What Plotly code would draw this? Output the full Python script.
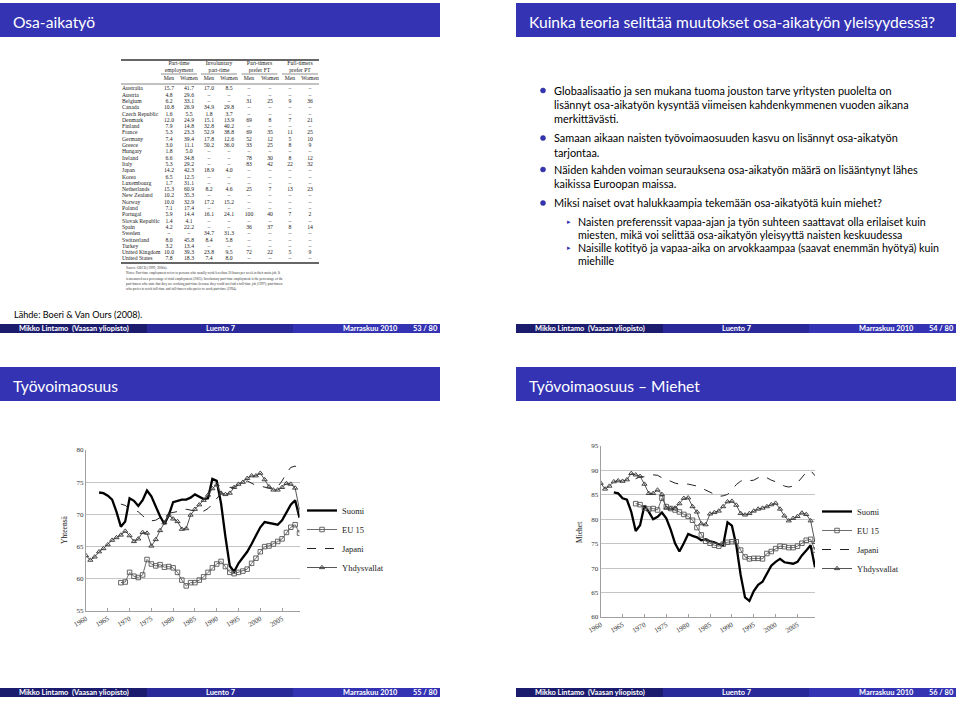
import plotly.graph_objects as go

W, H = 960, 701
def X(p): return p / W
def Y(p): return 1 - p / H

BLUE = '#3333b3'
FOOT = ['#1c1c6e', '#29299a', '#3333b3']
SANS = 'Lato, sans-serif'
SERIF = 'Liberation Serif, serif'
DASH = '\u2013'

# ---------------- data: slide 1 table ----------------
countries = ['Australia', 'Austria', 'Belgium', 'Canada', 'Czech Republic', 'Denmark', 'Finland',
             'France', 'Germany', 'Greece', 'Hungary', 'Ireland', 'Italy', 'Japan', 'Korea',
             'Luxembourg', 'Netherlands', 'New Zealand', 'Norway', 'Poland', 'Portugal',
             'Slovak Republic', 'Spain', 'Sweden', 'Switzerland', 'Turkey', 'United Kingdom',
             'United States']
pt_men = ['15.7', '4.8', '6.2', '10.8', '1.6', '12.0', '7.9', '5.3', '7.4', '3.0', '1.8', '6.6', '5.3',
          '14.2', '6.5', '1.7', '15.3', '10.2', '10.0', '7.1', '5.9', '1.4', '4.2', DASH, '8.0', '3.2',
          '10.0', '7.8']
pt_women = ['41.7', '29.6', '33.1', '26.9', '5.5', '24.9', '14.8', '23.3', '39.4', '11.1', '5.0', '34.8',
            '29.2', '42.3', '12.5', '31.1', '60.9', '35.3', '32.9', '17.4', '14.4', '4.1', '22.2', DASH,
            '45.8', '13.4', '39.3', '18.3']
inv_men = ['17.0', DASH, DASH, '34.9', '1.8', '15.1', '32.8', '52.9', '17.8', '50.2', DASH, DASH, DASH,
           '18.9', DASH, DASH, '8.2', DASH, '17.2', DASH, '16.1', DASH, DASH, '34.7', '8.4', DASH,
           '23.8', '7.4']
inv_women = ['8.5', DASH, DASH, '29.8', '3.7', '13.9', '40.2', '38.8', '12.6', '36.0', DASH, DASH, DASH,
             '4.0', DASH, DASH, '4.6', DASH, '15.2', DASH, '24.1', DASH, DASH, '31.3', '5.8', DASH,
             '9.5', '8.0']
ptft_men = [DASH, DASH, '31', DASH, DASH, '69', DASH, '69', '52', '33', DASH, '78', '83', DASH, DASH,
            DASH, '25', DASH, DASH, DASH, '100', DASH, '36', DASH, DASH, DASH, '72', DASH]
ptft_women = [DASH, DASH, '25', DASH, DASH, '8', DASH, '35', '12', '25', DASH, '30', '42', DASH, DASH,
              DASH, '7', DASH, DASH, DASH, '40', DASH, '37', DASH, DASH, DASH, '22', DASH]
ftpt_men = [DASH, DASH, '9', DASH, DASH, '7', DASH, '11', '5', '8', DASH, '8', '22', DASH, DASH,
            DASH, '13', DASH, DASH, DASH, '7', DASH, '8', DASH, DASH, DASH, '5', DASH]
ftpt_women = [DASH, DASH, '36', DASH, DASH, '21', DASH, '25', '10', '9', DASH, '12', '32', DASH, DASH,
              DASH, '23', DASH, DASH, DASH, '2', DASH, '14', DASH, DASH, DASH, '9', DASH]
table_groups = ['Part-time<br>employment', 'Involuntary<br>part-time',
                'Part-timers<br>prefer FT', 'Full-timers<br>prefer PT']
table_sub = ['Men', 'Women', 'Men', 'Women', 'Men', 'Women', 'Men', 'Women']
table_notes = [
    'Source: OECD (1999, 2006a).',
    'Notes: Part-time employment refers to persons who usually work less than 30 hours per week in their main job. It',
    'is measured as a percentage of total employment (2005); Involuntary part-time employment is the percentage of the',
    'part-timers who state that they are working part-time because they could not find a full-time job (1997); part-timers',
    'who prefer to work full-time and full-timers who prefer to work part-time (1994).',
]

# ---------------- data: charts ----------------
years = list(range(1960, 2010))
series_names = ['Suomi', 'EU 15', 'Japani', 'Yhdysvallat']

tot_suomi = [None] * 3 + [
    73.4, 73.3, 72.9, 72.3, 70.4, 68.1, 68.9, 72.5, 72.1, 71.3, 72.2, 73.7, 72.8, 71.2, 69.7,
    68.5, 69.9, 71.9, 72.1, 72.3, 72.3, 72.6, 73.1, 72.8, 72.4, 72.5, 75.5, 75.2, 71.7, 66.5,
    62.0, 61.1, 62.4, 63.3, 64.2, 65.4, 66.8, 68.0, 68.8, 68.7, 68.5, 68.4, 69.1, 70.4, 71.5,
    72.2, 69.5]
tot_eu15 = [None] * 8 + [
    59.4, 59.5, 61.0, 60.4, 60.2, 60.6, 63.0, 62.3, 62.0, 62.2, 61.8, 61.9, 61.7, 61.0, 59.8,
    58.9, 59.4, 59.4, 59.8, 60.3, 61.0, 61.7, 62.3, 62.7, 61.9, 61.0, 60.8, 61.0, 61.2, 61.5,
    62.4, 63.2, 64.2, 65.0, 65.1, 65.4, 65.8, 66.2, 67.2, 68.0, 68.4, 67.1]
tot_japani = [None] * 8 + [
    71.6, 71.4, 70.9, 70.7, 70.4, 69.8, 69.2, 69.0, 69.1, 69.5, 69.9, 70.2, 70.3, 70.4, 70.6,
    70.8, 70.7, 70.5, 70.4, 70.5, 70.9, 71.6, 72.5, 73.3, 73.9, 74.2, 74.2, 74.6, 74.9, 75.2,
    74.8, 74.5, 74.4, 74.2, 74.1, 73.9, 74.3, 75.2, 76.4, 77.3, 77.5, 77.0]
tot_usa = [
    63.6, 62.9, 63.4, 64.2, 64.7, 65.3, 66.0, 66.4, 66.8, 67.4, 66.7, 65.8, 66.2, 67.2, 67.1,
    65.1, 66.1, 67.5, 68.7, 69.9, 69.3, 68.9, 67.7, 67.8, 69.9, 70.8, 71.5, 72.2, 73.0, 74.0,
    74.6, 73.3, 73.1, 73.3, 74.2, 74.7, 75.0, 75.6, 76.0, 76.0, 76.4, 75.4, 74.3, 73.8, 73.8,
    74.2, 74.8, 74.7, 74.1, 70.7]

men_suomi = [None] * 3 + [
    85.5, 85.3, 84.3, 84.0, 81.5, 77.6, 78.8, 82.8, 81.5, 80.0, 80.5, 81.4, 80.2, 77.9, 75.1,
    73.4, 75.1, 77.0, 76.6, 76.3, 75.7, 75.9, 75.5, 75.3, 74.9, 74.7, 79.4, 78.7, 74.7, 68.6,
    64.0, 63.3, 65.3, 66.6, 67.2, 69.0, 70.5, 71.3, 71.9, 71.2, 71.0, 70.9, 71.3, 72.6, 73.6,
    74.7, 70.2]
men_eu15 = [None] * 8 + [
    83.2, 83.0, 82.3, 82.1, 82.2, 81.9, 84.3, 82.6, 82.2, 81.9, 81.5, 81.0, 80.6, 79.8, 78.3,
    76.8, 75.5, 75.1, 74.7, 74.5, 74.9, 75.3, 75.4, 75.4, 73.7, 72.3, 71.9, 72.0, 72.0, 71.9,
    73.0, 73.4, 74.0, 74.5, 74.4, 74.2, 74.2, 74.5, 75.1, 75.7, 75.9, 73.7]
men_japani = [None] * 8 + [
    88.3, 88.7, 88.7, 88.9, 89.1, 89.0, 88.5, 88.0, 87.8, 87.4, 87.2, 87.2, 87.2, 87.0, 86.8,
    86.4, 86.0, 85.5, 85.1, 84.7, 84.8, 85.1, 86.0, 87.1, 87.8, 88.1, 87.9, 88.0, 88.5, 88.9,
    88.5, 88.0, 87.7, 87.3, 86.8, 86.6, 86.8, 87.5, 88.5, 89.6, 90.0, 88.9]
men_usa = [
    87.4, 86.2, 86.8, 87.7, 87.9, 87.8, 88.1, 89.4, 89.1, 88.8, 87.2, 85.3, 85.3, 86.0, 85.1,
    82.3, 82.2, 82.3, 83.2, 84.3, 84.4, 82.6, 81.5, 79.1, 78.9, 81.1, 81.4, 81.7, 82.6, 83.6,
    83.7, 82.9, 81.2, 80.9, 81.2, 81.7, 82.1, 82.3, 82.6, 83.0, 83.3, 82.1, 80.7, 79.7, 80.2,
    80.6, 81.3, 81.0, 79.7, 75.3]

x_ticks = list(range(1960, 2010, 5))

# ---------------- slide texts ----------------
slide_titles = ['Osa-aikaty\u00f6', 'Kuinka teoria selitt\u00e4\u00e4 muutokset osa-aikaty\u00f6n yleisyydess\u00e4?',
                'Ty\u00f6voimaosuus', 'Ty\u00f6voimaosuus \u2013 Miehet']
page_labels = ['53 / 80', '54 / 80', '55 / 80', '56 / 80']
footer_author = 'Mikko Lintamo\u00a0\u00a0(Vaasan yliopisto)'
footer_title = 'Luento 7'
footer_date = 'Marraskuu 2010'
source_text = 'L\u00e4hde: Boeri & Van Ours (2008).'

bullets = [
    ['Globaalisaatio ja sen mukana tuoma jouston tarve yritysten puolelta on',
     'lis\u00e4nnyt osa-aikaty\u00f6n kysynt\u00e4\u00e4 viimeisen kahdenkymmenen vuoden aikana',
     'merkitt\u00e4v\u00e4sti.'],
    ['Samaan aikaan naisten ty\u00f6voimaosuuden kasvu on lis\u00e4nnyt osa-aikaty\u00f6n',
     'tarjontaa.'],
    ['N\u00e4iden kahden voiman seurauksena osa-aikaty\u00f6n m\u00e4\u00e4r\u00e4 on lis\u00e4\u00e4ntynyt l\u00e4hes',
     'kaikissa Euroopan maissa.'],
    ['Miksi naiset ovat halukkaampia tekem\u00e4\u00e4n osa-aikaty\u00f6t\u00e4 kuin miehet?'],
]
sub_bullets = [
    ['Naisten preferenssit vapaa-ajan ja ty\u00f6n suhteen saattavat olla erilaiset kuin',
     'miesten, mik\u00e4 voi selitt\u00e4\u00e4 osa-aikaty\u00f6n yleisyytt\u00e4 naisten keskuudessa'],
    ['Naisille kotity\u00f6 ja vapaa-aika on arvokkaampaa (saavat enemm\u00e4n hy\u00f6ty\u00e4) kuin',
     'miehille'],
]

# ---------------- figure ----------------
fig = go.Figure()
shapes = []
annotations = []

slides = [(0, 3), (516, 3), (0, 367), (516, 367)]
for i, (sx, sy) in enumerate(slides):
    shapes.append(dict(type='rect', xref='paper', yref='paper', x0=X(sx), x1=X(sx + 440),
                       y0=Y(sy), y1=Y(sy + 34), fillcolor=BLUE, line=dict(width=0), layer='below'))
    annotations.append(dict(text=slide_titles[i], x=X(sx + 11), y=Y(sy + 19), xref='paper', yref='paper',
                            xanchor='left', yanchor='middle', showarrow=False,
                            font=dict(family=SANS, size=15.6, color='white')))
    fy0, fy1 = sy + 321, sy + 330
    segs = [(0, 147), (147, 293), (293, 440)]
    for (a, b), col in zip(segs, FOOT):
        shapes.append(dict(type='rect', xref='paper', yref='paper', x0=X(sx + a), x1=X(sx + b),
                           y0=Y(fy0), y1=Y(fy1), fillcolor=col, line=dict(width=0), layer='below'))
    fym = Y(fy0 + 4.6)
    for txt, fx, anc in [(footer_author, 17, 'left'), (footer_title, 221, 'center'),
                         (footer_date, 341, 'left'), (page_labels[i], 411, 'left')]:
        annotations.append(dict(text='<b>' + txt + '</b>', x=X(sx + fx), y=fym, xanchor=anc,
                                xref='paper', yref='paper', yanchor='middle', showarrow=False,
                                font=dict(family=SANS, size=7.4, color='white')))

# ---- slide 1: table drawn as text on its own hidden axes ----
ROW0, PITCH = 89.0, 6.296           # px of first row centre, row pitch
COL_X = [48, 68, 88, 108, 128, 149, 169, 189]   # column centres (px from table left)
GROUP_X = [58, 98, 138.5, 179]
rows = list(range(len(countries)))
tfont = dict(family=SERIF, size=5.7, color='#222')
fig.add_trace(go.Scatter(x=[1] * len(countries), y=rows, text=countries, mode='text',
                         textposition='middle right', textfont=tfont, xaxis='x3', yaxis='y3',
                         showlegend=False, hoverinfo='skip'))
for cx, col in zip(COL_X, [pt_men, pt_women, inv_men, inv_women, ptft_men, ptft_women, ftpt_men, ftpt_women]):
    fig.add_trace(go.Scatter(x=[cx] * len(col), y=rows, text=col, mode='text', textposition='middle center',
                             textfont=tfont, xaxis='x3', yaxis='y3', showlegend=False, hoverinfo='skip'))
fig.add_trace(go.Scatter(x=COL_X, y=[-1.6] * len(COL_X), text=table_sub, mode='text',
                         textposition='middle center', textfont=tfont, xaxis='x3', yaxis='y3',
                         showlegend=False, hoverinfo='skip'))
fig.add_trace(go.Scatter(x=GROUP_X, y=[-3.5] * len(GROUP_X), text=table_groups, mode='text',
                         textposition='middle center', textfont=tfont, xaxis='x3', yaxis='y3',
                         showlegend=False, hoverinfo='skip'))
for cx in GROUP_X:
    shapes.append(dict(type='line', xref='paper', yref='paper', x0=X(121 + cx - 18), x1=X(121 + cx + 18),
                       y0=Y(74), y1=Y(74), line=dict(color='#444', width=0.6)))
for yy, wdt in [(60, 1.3), (84, 0.6), (263, 1.3)]:
    shapes.append(dict(type='line', xref='paper', yref='paper', x0=X(121), x1=X(319),
                       y0=Y(yy), y1=Y(yy), line=dict(color='#333', width=wdt)))
for k, line in enumerate(table_notes):
    annotations.append(dict(text=line, x=X(124), y=Y(268 + 5.3 * k), xref='paper', yref='paper',
                            xanchor='left', yanchor='middle', showarrow=False,
                            font=dict(family=SERIF, size=3.4, color='#333')))
annotations.append(dict(text=source_text, x=X(12), y=Y(314), xref='paper', yref='paper', xanchor='left',
                        yanchor='middle', showarrow=False, font=dict(family=SANS, size=9.1, color='black')))

# ---- slide 2: bullets ----
line_y = [[90.5, 104.5, 119], [138, 152.5], [169.5, 184], [203]]
for lines, ys in zip(bullets, line_y):
    shapes.append(dict(type='circle', xref='paper', yref='paper', x0=X(540.5), x1=X(545.5),
                       y0=Y(ys[0] - 2.5), y1=Y(ys[0] + 2.5), fillcolor=BLUE,
                       line=dict(color='#26268a', width=0.5)))
    for txt, yy in zip(lines, ys):
        annotations.append(dict(text=txt, x=X(552), y=Y(yy), xref='paper', yref='paper', xanchor='left',
                                yanchor='middle', showarrow=False,
                                font=dict(family=SANS, size=10.9, color='black')))
sub_y = [[222, 234.5], [247.5, 260]]
for lines, ys in zip(sub_bullets, sub_y):
    annotations.append(dict(text='\u25b8', x=X(568.5), y=Y(ys[0]), xref='paper', yref='paper',
                            xanchor='center', yanchor='middle', showarrow=False,
                            font=dict(family='DejaVu Sans', size=7, color=BLUE)))
    for txt, yy in zip(lines, ys):
        annotations.append(dict(text=txt, x=X(576), y=Y(yy), xref='paper', yref='paper', xanchor='left',
                                yanchor='middle', showarrow=False,
                                font=dict(family=SANS, size=10.7, color='black')))

# ---- charts ----
def add_series(vals, xa, ya, lg):
    s, e, j, u = vals
    fig.add_trace(go.Scatter(x=years, y=s, name=series_names[0], mode='lines', xaxis=xa, yaxis=ya,
                             legend=lg, line=dict(color='black', width=2.3)))
    fig.add_trace(go.Scatter(x=years, y=e, name=series_names[1], mode='lines+markers', xaxis=xa, yaxis=ya,
                             legend=lg, line=dict(color='#6e6e6e', width=1),
                             marker=dict(symbol='square-open', size=4.5, color='#555',
                                         line=dict(width=0.9))))
    fig.add_trace(go.Scatter(x=years, y=j, name=series_names[2], mode='lines', xaxis=xa, yaxis=ya,
                             legend=lg, line=dict(color='#222', width=1, dash='dash')))
    fig.add_trace(go.Scatter(x=years, y=u, name=series_names[3], mode='lines+markers', xaxis=xa, yaxis=ya,
                             legend=lg, line=dict(color='#555', width=1),
                             marker=dict(symbol='triangle-up-open', size=4.5, color='#333',
                                         line=dict(width=0.9))))

add_series([tot_suomi, tot_eu15, tot_japani, tot_usa], 'x', 'y', 'legend')
add_series([men_suomi, men_eu15, men_japani, men_usa], 'x2', 'y2', 'legend2')

tickfont = dict(family=SERIF, size=7, color='#333')
def xax(dom, anchor):
    return dict(domain=dom, range=[1960, 2009], tickvals=x_ticks, tickangle=-30, tickfont=tickfont,
                showgrid=False, zeroline=False, showline=True, linecolor='#a0a0a0', linewidth=1,
                ticks='inside', ticklen=3, tickcolor='#a0a0a0', anchor=anchor, automargin=False)
def yax(dom, rng, anchor):
    return dict(domain=dom, range=rng, dtick=5, tickfont=tickfont, showgrid=True, gridcolor='#c4c4c4',
                gridwidth=1, zeroline=False, showline=True, linecolor='#a0a0a0', linewidth=1,
                ticks='', anchor=anchor, automargin=False)

annotations.append(dict(text='Yhteens\u00e4', x=X(64), y=Y(530), xref='paper', yref='paper', textangle=-90,
                        xanchor='center', yanchor='middle', showarrow=False,
                        font=dict(family=SERIF, size=7.5, color='#222')))
annotations.append(dict(text='Miehet', x=X(579), y=Y(532), xref='paper', yref='paper', textangle=-90,
                        xanchor='center', yanchor='middle', showarrow=False,
                        font=dict(family=SERIF, size=7.5, color='#222')))

hidden = dict(visible=False, showgrid=False, zeroline=False, automargin=False, fixedrange=True)
legfont = dict(family=SERIF, size=8.5, color='#222')
fig.update_layout(
    template='none',
    width=W, height=H, margin=dict(l=0, r=0, t=0, b=0, autoexpand=False),
    paper_bgcolor='white', plot_bgcolor='white',
    xaxis=xax([X(86), X(299.5)], 'y'),
    yaxis=yax([Y(611), Y(450)], [55, 80], 'x'),
    xaxis2=xax([X(600.7), X(815)], 'y2'),
    yaxis2=yax([Y(617), Y(446)], [60, 95], 'x2'),
    xaxis3=dict(domain=[X(121), X(319)], range=[0, 198], anchor='y3', **hidden),
    yaxis3=dict(domain=[Y(ROW0 + 27.5 * PITCH), Y(ROW0 - 5.5 * PITCH)], range=[27.5, -5.5],
                anchor='x3', **hidden),
    legend=dict(x=X(302), y=Y(496), xanchor='left', yanchor='top', font=legfont,
                bgcolor='rgba(0,0,0,0)', itemwidth=30),
    legend2=dict(x=X(817), y=Y(497), xanchor='left', yanchor='top', font=legfont,
                 bgcolor='rgba(0,0,0,0)', itemwidth=30),
    shapes=shapes, annotations=annotations, showlegend=True,
)

fig.write_html('out.html', config={'displayModeBar': False},
               post_script="document.body.style.margin='0px';document.body.style.padding='0px';")
